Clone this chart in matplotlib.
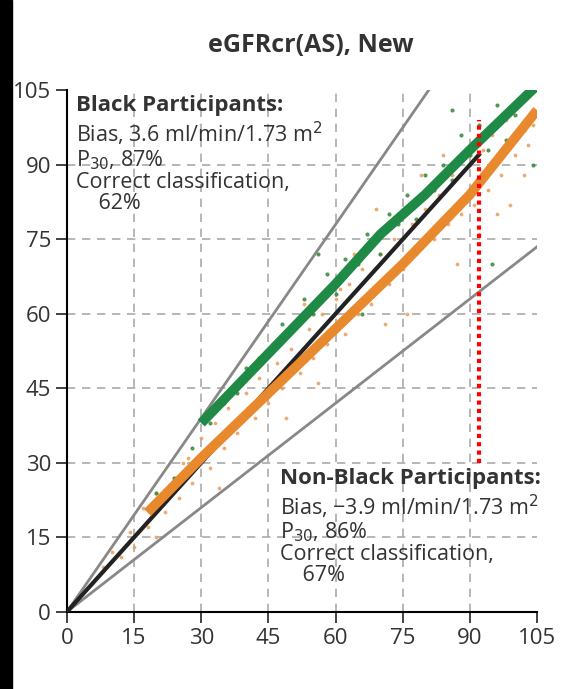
import matplotlib.pyplot as plt
import numpy as np

# hand-estimated points from the scatter cloud (measured GFR, estimated GFR)
nonblack_x = [8, 10, 12, 14, 15, 17, 18, 20, 22, 24, 25, 27, 28, 30, 32, 33, 35, 36, 38, 40,
              42, 43, 45, 47, 48, 50, 52, 54, 55, 57, 58, 60, 62, 63, 65, 66, 68, 70, 72, 73,
              75, 77, 78, 80, 82, 83, 85, 86, 88, 90, 91, 93, 94, 95, 97, 98, 100, 101, 103, 104,
              20, 26, 34, 41, 49, 56, 64, 71, 79, 87, 96, 102, 44, 61, 76, 92, 99, 69, 84, 53]
nonblack_y = [9, 12, 11, 16, 13, 21, 17, 24, 20, 27, 23, 31, 26, 35, 29, 38, 33, 41, 36, 44,
              39, 47, 42, 50, 45, 53, 48, 57, 51, 60, 54, 63, 56, 66, 60, 69, 62, 72, 66, 75,
              69, 78, 72, 81, 75, 84, 78, 88, 80, 90, 82, 93, 85, 96, 88, 99, 92, 102, 94, 98,
              15, 30, 25, 49, 39, 46, 72, 58, 88, 70, 80, 88, 52, 65, 60, 76, 82, 81, 92, 62]
black_x = [20, 24, 28, 32, 35, 38, 40, 43, 46, 48, 50, 53, 55, 58, 60, 62, 65, 67, 70, 72,
           74, 76, 78, 80, 82, 84, 86, 88, 90, 92, 94, 96, 98, 100, 102, 104, 56, 66, 86, 95]
black_y = [24, 27, 33, 38, 42, 44, 49, 51, 54, 58, 57, 63, 60, 68, 64, 71, 70, 76, 72, 80,
           78, 84, 79, 88, 85, 90, 87, 96, 92, 98, 93, 102, 95, 100, 97, 90, 72, 60, 101, 70]

green_x = [30, 45, 60, 70, 80, 90, 105]
green_y = [38, 52, 66, 76, 84, 93, 106]
orange_x = [18, 30, 45, 60, 75, 90, 105]
orange_y = [20, 31, 44, 57, 70, 84, 101]

ticks = [0, 15, 30, 45, 60, 75, 90, 105]

plt.rcParams['font.family'] = 'Open Sans'
fig = plt.figure(figsize=(5.87, 6.89), dpi=100)
ax = fig.add_axes([0.114, 0.112, 0.801, 0.757])

for t in ticks[1:-1]:
    ax.axhline(t, color="#aaaaaa", ls=(0, (5, 4)), lw=1.2, zorder=0)
    ax.axvline(t, color="#aaaaaa", ls=(0, (5, 4)), lw=1.2, zorder=0)

ax.scatter(nonblack_x, nonblack_y, s=3, color="#e8a060", alpha=0.8, zorder=1)
ax.scatter(black_x, black_y, s=4, color="#3a8a3a", alpha=0.8, zorder=1)

xx = np.array([0, 105])
ax.plot([0, 105 / 1.3], [0, 105], color="#888888", lw=2, zorder=2)
ax.plot(xx, 0.7 * xx, color="#888888", lw=2, zorder=2)
ax.plot([0, 92], [0, 92], color="#222222", lw=3, zorder=3)
ax.plot(green_x, green_y, color="#1e8a45", lw=7, zorder=4, solid_capstyle="butt")
ax.plot(orange_x, orange_y, color="#e8892e", lw=7, zorder=4, solid_capstyle="butt")
ax.plot([92, 92], [30, 99], color="red", ls=(0, (1, 1)), lw=3, zorder=5)

ax.set_xlim(0, 105)
ax.set_ylim(0, 105)
ax.set_xticks(ticks)
ax.set_yticks(ticks)
ax.tick_params(labelsize=16, length=8, width=1.3, colors="#333333")
for s in ["top", "right"]:
    ax.spines[s].set_visible(False)
for s in ["left", "bottom"]:
    ax.spines[s].set_linewidth(1.5)

ax.text(2, 104, "Black Participants:", fontsize=16, fontweight="bold", color="#333333", va="top")
ax.text(2, 99, "Bias, 3.6 ml/min/1.73 m$^2$\nP$_{30}$, 87%\nCorrect classification,\n    62%",
        fontsize=15.5, color="#333333", va="top", linespacing=1.0)
ax.text(47.5, 29, "Non-Black Participants:", fontsize=16, fontweight="bold", color="#333333", va="top")
ax.text(47.5, 24, "Bias, \u22123.9 ml/min/1.73 m$^2$\nP$_{30}$, 86%\nCorrect classification,\n    67%",
        fontsize=15.5, color="#333333", va="top", linespacing=1.0)

fig.text(0.53, 0.925, "eGFRcr(AS), New", fontsize=18, fontweight="bold", color="#333333", ha="center")
fig.patches.append(plt.Rectangle((0, 0), 0.02, 1, transform=fig.transFigure, color="black"))

fig.savefig("out.png", dpi=100)
